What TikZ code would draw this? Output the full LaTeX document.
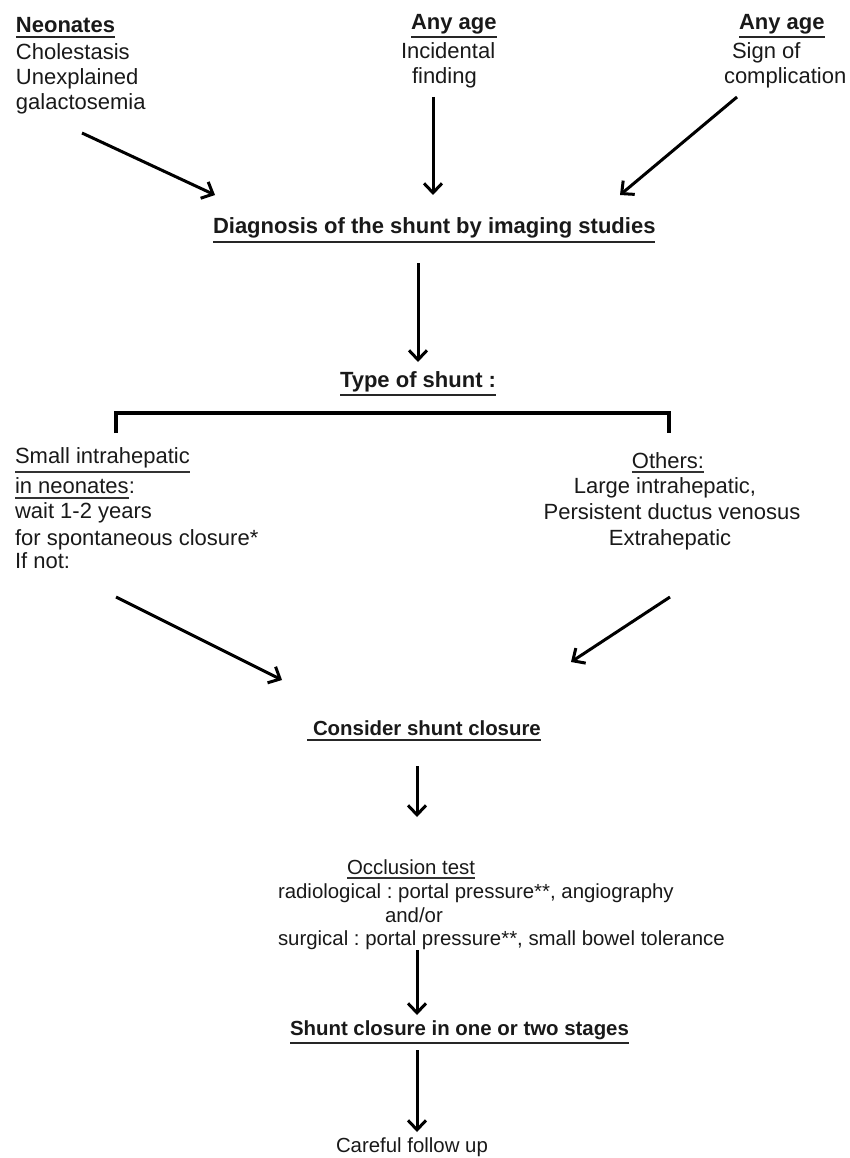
\documentclass[tikz,border=0pt]{standalone}
\usepackage{fontspec}
\setmainfont{Liberation Sans}
\usetikzlibrary{arrows.meta}
\frenchspacing
\begin{document}
\begin{tikzpicture}[x=1pt,y=-1pt,
  txt/.style={inner sep=0pt, outer sep=0pt, anchor=base west, text=black!90, font=\fontsize{22}{25}\selectfont},
  btxt/.style={txt, font=\fontsize{22}{25}\selectfont\bfseries},
  stxt/.style={txt, font=\fontsize{20.4}{24}\selectfont},
  sbtxt/.style={txt, font=\fontsize{20.4}{24}\selectfont\bfseries},
  arr/.style={line width=3pt, -{Straight Barb[length=9.5pt,width=18pt]}},
  uthick/.style={line width=2.6pt, black!85},
  uthin/.style={line width=1.5pt, black!80},
  brk/.style={line width=3.5pt, line join=miter}]
\useasboundingbox (0,0) rectangle (850,1158);

% ---- top sources
\node[btxt] (neo) at (16,33) {Neonates};
\node[txt] (chol) at (16,60) {Cholestasis};
\node[txt] (unex) at (16,85) {Unexplained};
\node[txt] (gal) at (16,110) {galactosemia};
\draw[uthick] ([yshift=-4pt]neo.base west) -- ([yshift=-4pt]neo.base east);

\node[btxt] (anyA) at (411,29.5) {Any age};
\node[txt] (inc) at (401,59) {Incidental};
\node[txt] (find) at (412,84) {finding};
\draw[uthick] ([yshift=-7.5pt]anyA.base west) -- ([yshift=-7.5pt]anyA.base east);

\node[btxt] (anyB) at (739,29.5) {Any age};
\node[txt] (sign) at (732,59) {Sign of};
\node[txt] (comp) at (724,84) {complication};
\draw[uthick] ([yshift=-7.5pt]anyB.base west) -- ([yshift=-7.5pt]anyB.base east);

% ---- diagnosis
\node[btxt] (diag) at (213,234) {Diagnosis of the shunt by imaging studies};
\draw[uthick] ([yshift=-8pt]diag.base west) -- ([yshift=-8pt]diag.base east);

\coordinate (a1s) at (82,133);  \coordinate (a1e) at (215,195);
\coordinate (a2s) at (433,97);  \coordinate (a2e) at (433,195);
\coordinate (a3s) at (737,97);  \coordinate (a3e) at (620,195);
\draw[arr] (a1s) -- (a1e);
\draw[arr] (a2s) -- (a2e);
\draw[arr] (a3s) -- (a3e);

\coordinate (a4s) at (418,263); \coordinate (a4e) at (418,362);
\draw[arr] (a4s) -- (a4e);

% ---- type of shunt
\node[btxt] (type) at (340,387) {Type of shunt :};
\draw[uthick] ([yshift=-8pt]type.base west) -- ([yshift=-8pt]type.base east);

\coordinate (b1) at (116,433); \coordinate (b2) at (116,413);
\coordinate (b3) at (669,413); \coordinate (b4) at (669,433);
\draw[brk] (b1) -- (b2) -- (b3) -- (b4);

% ---- left branch
\node[txt] (small) at (15,463) {Small intrahepatic};
\draw[uthin] ([yshift=-9pt]small.base west) -- ([yshift=-9pt]small.base east);
\node[txt] (inneo) at (15,493) {in neonates};
\node[txt, anchor=base west] (colon) at (inneo.base east) {:};
\draw[uthin] ([yshift=-5pt]inneo.base west) -- ([yshift=-5pt]inneo.base east);
\node[txt] (wait) at (15,518) {wait 1-2 years};
\node[txt] (spont) at (15,545) {for spontaneous closure*};
\node[txt] (ifnot) at (15,568) {If not:};

% ---- right branch
\node[txt, anchor=base] (others) at (668,468) {Others:};
\draw[uthin] ([yshift=-4pt]others.base west) -- ([yshift=-4pt]others.base east);
\node[txt, anchor=base] (large) at (665,493) {Large intrahepatic,};
\node[txt, anchor=base] (pers) at (672,519) {Persistent ductus venosus};
\node[txt, anchor=base] (extra) at (670,545) {Extrahepatic};

\coordinate (a5s) at (116,597); \coordinate (a5e) at (282,680);
\coordinate (a6s) at (670,597); \coordinate (a6e) at (571,662);
\draw[arr] (a5s) -- (a5e);
\draw[arr] (a6s) -- (a6e);

% ---- consider
\node[sbtxt] (cons) at (313,735) {Consider shunt closure};
\draw[uthick] ([xshift=-6pt,yshift=-5pt]cons.base west) -- ([yshift=-5pt]cons.base east);

\coordinate (a7s) at (417,766); \coordinate (a7e) at (417,817);
\draw[arr] (a7s) -- (a7e);

% ---- occlusion test
\node[stxt] (occl) at (347,874) {Occlusion test};
\draw[uthin] ([yshift=-4pt]occl.base west) -- ([yshift=-4pt]occl.base east);
\node[stxt] (radio) at (278,898) {radiological : portal pressure**, angiography};
\node[stxt] (andor) at (385,922) {and/or};
\node[stxt] (surg) at (278,945) {surgical : portal pressure**, small bowel tolerance};

\coordinate (a8s) at (417,950); \coordinate (a8e) at (417,1015);
\draw[arr] (a8s) -- (a8e);

% ---- final
\node[sbtxt] (final) at (290,1035) {Shunt closure in one or two stages};
\draw[uthick] ([yshift=-8pt]final.base west) -- ([yshift=-8pt]final.base east);

\coordinate (a9s) at (417,1050); \coordinate (a9e) at (417,1132);
\draw[arr] (a9s) -- (a9e);

\node[stxt] (care) at (336,1152) {Careful follow up};
\end{tikzpicture}
\end{document}
